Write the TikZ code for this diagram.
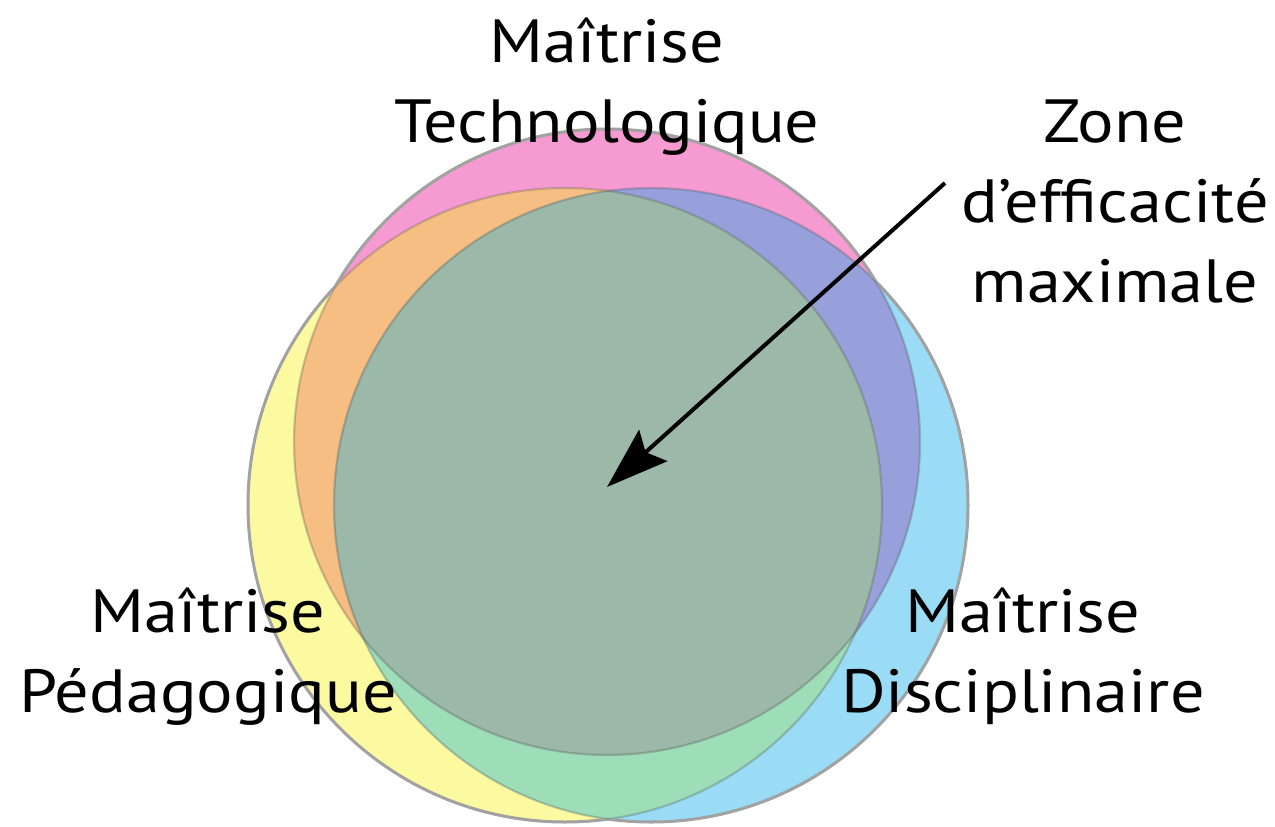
\documentclass[tikz,border=0pt]{standalone}
\usepackage{fontspec}
\setmainfont{PT Sans}[FakeStretch=1.12]
\usetikzlibrary{arrows.meta}
\definecolor{cpink}{HTML}{F59BD2}
\definecolor{cyellow}{HTML}{FCFAA0}
\definecolor{cblue}{HTML}{9ADCF5}
\definecolor{corange}{HTML}{F6BE82}
\definecolor{cpurple}{HTML}{98A0DC}
\definecolor{cgreen}{HTML}{9DDEB8}
\definecolor{ccentre}{HTML}{9BB8A8}
\definecolor{cedge}{HTML}{A2A2A2}
\tikzset{
  label text/.style={inner sep=0pt, font=\fontsize{61}{80}\selectfont},
  inner edge/.style={draw=black!70, draw opacity=0.28, line width=2.2pt},
  outer edge/.style={draw=cedge, line width=3pt},
  pointer/.style={line width=4pt, -{Stealth[length=62pt, width=42pt, inset=10pt]}},
}
\newcommand{\twolines}[2]{\begin{tabular}[t]{@{}c@{}}#1\\#2\end{tabular}}
\begin{document}
\begin{tikzpicture}[x=1pt, y=-1pt]
\useasboundingbox (0,0) rectangle (1275,827);
\coordinate (T) at (607,442);
\coordinate (P) at (565,505);
\coordinate (D) at (651,505);
\def\rT{313}
\def\rP{317}
\def\rD{317}
% base fills
\fill[cpink] (T) circle[radius=\rT];
\fill[cyellow] (P) circle[radius=\rP];
\fill[cblue] (D) circle[radius=\rD];
% pairwise overlaps
\begin{scope}
  \clip (T) circle[radius=\rT];
  \fill[corange] (P) circle[radius=\rP];
  \fill[cpurple] (D) circle[radius=\rD];
\end{scope}
\begin{scope}
  \clip (P) circle[radius=\rP];
  \fill[cgreen] (D) circle[radius=\rD];
\end{scope}
% triple overlap
\begin{scope}
  \clip (T) circle[radius=\rT];
  \clip (P) circle[radius=\rP];
  \fill[ccentre] (D) circle[radius=\rD];
\end{scope}
% inner edges
\draw[inner edge] (T) circle[radius=\rT];
\draw[inner edge] (P) circle[radius=\rP];
\draw[inner edge] (D) circle[radius=\rD];
% outer edges (parts of each circle outside the other two)
\begin{scope}[even odd rule]
  \clip (-20,-20) rectangle (1295,847) (P) circle[radius=\rP];
  \clip (-20,-20) rectangle (1295,847) (D) circle[radius=\rD];
  \draw[outer edge] (T) circle[radius=\rT];
\end{scope}
\begin{scope}[even odd rule]
  \clip (-20,-20) rectangle (1295,847) (T) circle[radius=\rT];
  \clip (-20,-20) rectangle (1295,847) (D) circle[radius=\rD];
  \draw[outer edge] (P) circle[radius=\rP];
\end{scope}
\begin{scope}[even odd rule]
  \clip (-20,-20) rectangle (1295,847) (T) circle[radius=\rT];
  \clip (-20,-20) rectangle (1295,847) (P) circle[radius=\rP];
  \draw[outer edge] (D) circle[radius=\rD];
\end{scope}
% labels
\node[label text, anchor=base] (techno) at (607,62) {\twolines{Maîtrise}{Technologique}};
\node[label text, anchor=base] (zone) at (1115,142) {\begin{tabular}[t]{@{}c@{}}Zone\\d’efficacité\\maximale\end{tabular}};
\node[label text, anchor=base] (peda) at (208,632) {\twolines{Maîtrise}{Pédagogique}};
\node[label text, anchor=base] (disc) at (1023,632) {\twolines{Maîtrise}{Disciplinaire}};
% arrow
\coordinate (arrowstart) at (945,183);
\coordinate (arrowtip) at (607,487);
\draw[pointer] (arrowstart) -- (arrowtip);
\end{tikzpicture}
\end{document}
